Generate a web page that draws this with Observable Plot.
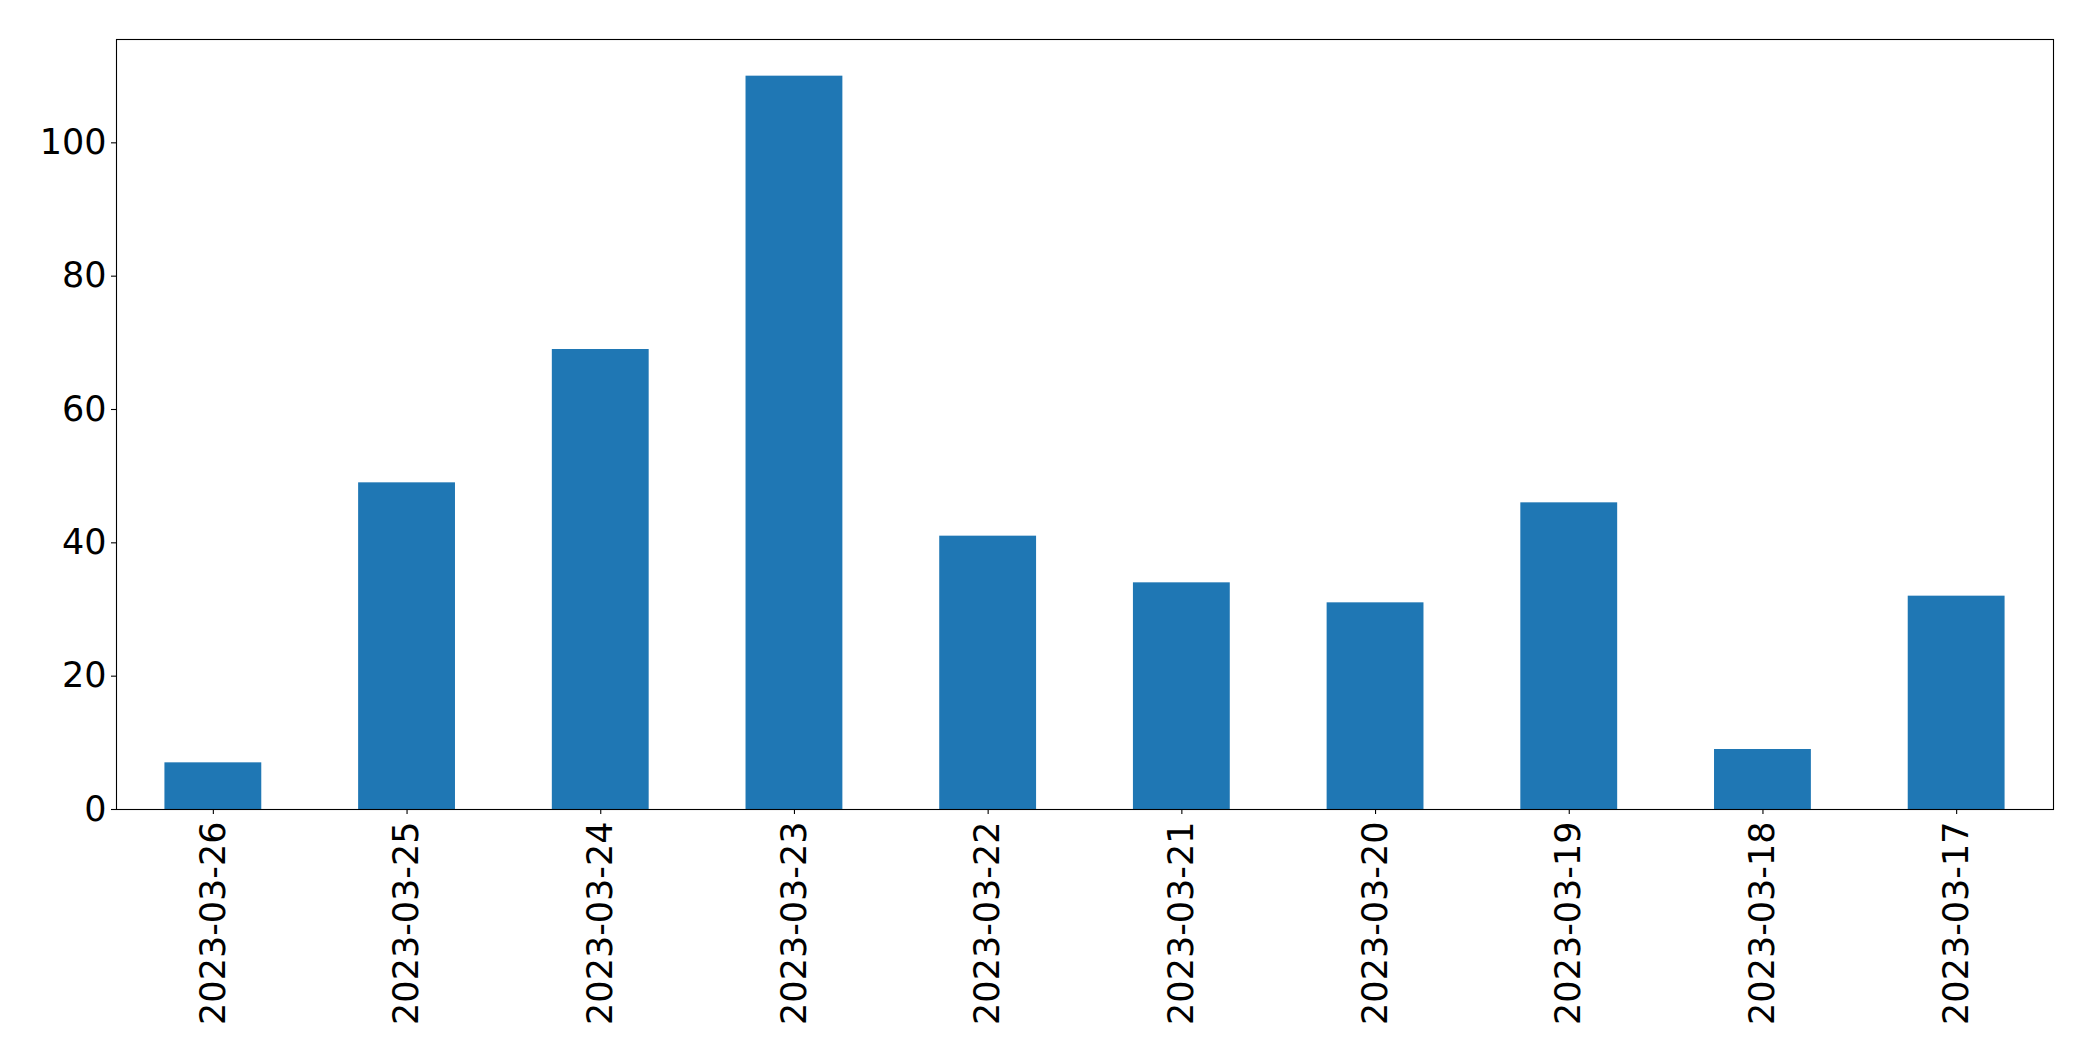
<!DOCTYPE html>
<html>
<head>
<meta charset="utf-8">
<script src="https://cdn.jsdelivr.net/npm/d3@7"></script>
<script src="https://cdn.jsdelivr.net/npm/@observablehq/plot@0.6"></script>
<style>
  html, body { margin: 0; padding: 0; background: #fff; }
  #chart { width: 2093px; height: 1061px; }
</style>
</head>
<body>
<div id="chart"></div>
<script>
const dates = ["2023-03-26", "2023-03-25", "2023-03-24", "2023-03-23", "2023-03-22",
               "2023-03-21", "2023-03-20", "2023-03-19", "2023-03-18", "2023-03-17"];
const counts = [7, 49, 69, 110, 41, 34, 31, 46, 9, 32];
const yTicks = [0, 20, 40, 60, 80, 100];

const data = dates.map((d, i) => ({date: d, count: counts[i]}));

const chart = Plot.plot({
  width: 2093,
  height: 1061,
  marginLeft: 116,
  marginRight: 40,
  marginTop: 39,
  marginBottom: 252,
  style: {fontFamily: "DejaVu Sans", color: "black", background: "white"},
  x: {type: "band", domain: dates, paddingInner: 0.5, paddingOuter: 0.25, align: 0.5, round: false, label: null},
  y: {domain: [0, 115.5], label: null},
  marks: [
    Plot.barY(data, {x: "date", y: "count", fill: "#1f77b4"}),
    Plot.axisY({ticks: yTicks, tickSize: 5, tickPadding: 5, fontSize: 35, label: null, strokeWidth: 1.1}),
    Plot.axisX({tickRotate: -90, tickSize: 5, tickPadding: 7, fontSize: 35, label: null, strokeWidth: 1.1}),
    Plot.frame({stroke: "black", strokeWidth: 1.1})
  ]
});
document.getElementById("chart").appendChild(chart);
</script>
</body>
</html>
